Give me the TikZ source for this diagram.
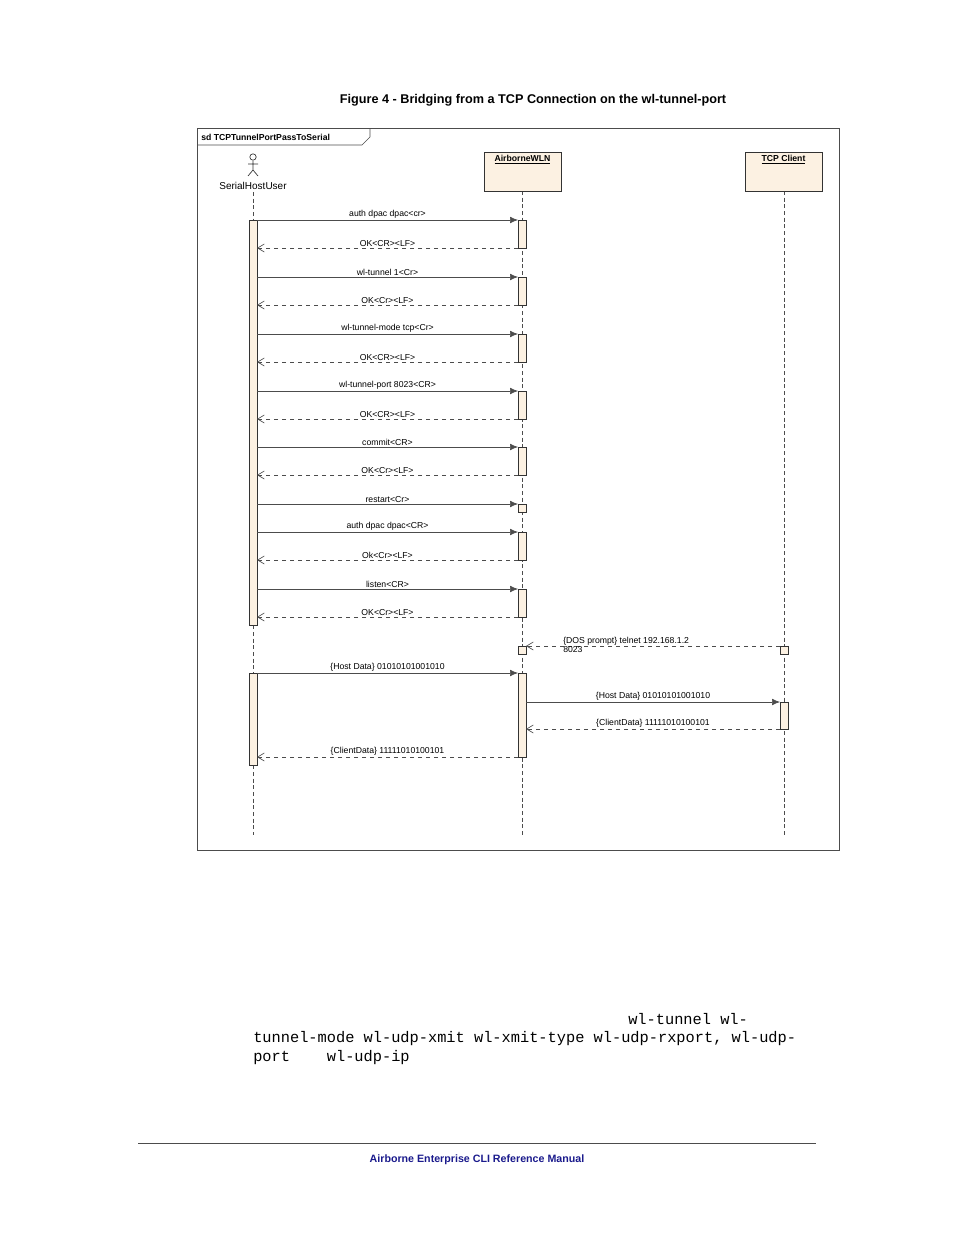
\documentclass[tikz,border=0pt]{standalone}
\usepackage{fontspec}
\setmainfont{Liberation Sans}
\newfontfamily\monof{Liberation Mono}
\usetikzlibrary{arrows.meta}
\definecolor{beige}{HTML}{FCF1E2}
\definecolor{navy}{HTML}{1A1A8C}
\begin{document}
\begin{tikzpicture}[x=0.75pt,y=-0.75pt,
  lbl/.style={font=\fontsize{6.5}{7}\selectfont,inner sep=1pt,anchor=south},
  syncm/.style={draw=black!70,line width=0.5pt,-{Latex[length=6pt,width=5pt]}},
  retm/.style={draw=black!70,dashed,line width=0.5pt,-{Straight Barb[length=5pt,width=6pt]}},
  act/.style={draw=black!80,fill=beige,line width=0.5pt},
  life/.style={draw=black!70,densely dashed,line width=0.5pt},
  objbox/.style={draw=black!80,fill=beige,line width=0.5pt}]
\useasboundingbox (0,0) rectangle (954,1235);
\node[font=\bfseries\fontsize{9.5}{11}\selectfont] (title) at (533,100) {Figure 4 - Bridging from a TCP Connection on the wl-tunnel-port};
% frame
\draw[black!70,line width=0.5pt] (197,128) rectangle (839,850);
\draw[black!70,line width=0.5pt] (197,145) -- (362,145) -- (370,137) -- (370,128);
\node[font=\bfseries\fontsize{6.5}{7}\selectfont,anchor=west,inner sep=0pt] (sd) at (201,137) {sd TCPTunnelPortPassToSerial};
% lifelines
\draw[life] (253,192) -- (253,835);
\draw[life] (522,191) -- (522,835);
\draw[life] (784,191) -- (784,835);
% actor
\draw[black!80,line width=0.5pt] (253,157) circle (3.2);
\draw[black!80,line width=0.5pt] (253,161) -- (253,170) (248,164) -- (258,164) (248,176) -- (253,170) -- (258,176);
\node[font=\fontsize{7.5}{8}\selectfont] (shu) at (253,186) {SerialHostUser};
% objects
\draw[objbox] (484,152) rectangle (561,191);
\node[font=\bfseries\fontsize{6.5}{7}\selectfont] (awl) at (522.5,160) {\underline{AirborneWLN}};
\draw[objbox] (745,152) rectangle (822,191);
\node[font=\bfseries\fontsize{6.5}{7}\selectfont] (tcp) at (783.5,160) {\underline{TCP Client}};
% activations
\draw[act] (249,220) rectangle (257,625);
\draw[act] (249,673) rectangle (257,765);
\foreach \a/\b in {220/248,277/305,334/362,391/419,447/475,532/560,589/617,673/757}
  \draw[act] (518,\a) rectangle (526,\b);
\draw[act] (518,504) rectangle (526,512);
\draw[act] (518,646) rectangle (526,654);
\draw[act] (780,646) rectangle (788,654);
\draw[act] (780,702) rectangle (788,729);
% messages
\foreach \y/\t in {220/auth dpac dpac<cr>,277/wl-tunnel 1<Cr>,334/wl-tunnel-mode tcp<Cr>,391/wl-tunnel-port 8023<CR>,447/commit<CR>,504/restart<Cr>,532/auth dpac dpac<CR>,589/listen<CR>}{
  \coordinate (s\y) at (257,\y); \coordinate (e\y) at (518,\y);
  \draw[syncm] (s\y) -- (e\y) node[lbl,midway] {\t};}
\foreach \y/\t in {248/OK<CR><LF>,305/OK<Cr><LF>,362/OK<CR><LF>,419/OK<CR><LF>,475/OK<Cr><LF>,560/Ok<Cr><LF>,617/OK<Cr><LF>}{
  \coordinate (rs\y) at (518,\y); \coordinate (re\y) at (257,\y);
  \draw[retm] (rs\y) -- (re\y) node[lbl,midway] {\t};}
\coordinate (d1) at (780,646); \coordinate (d2) at (526,646);
\draw[retm] (d1) -- (d2);
\node[font=\fontsize{6.5}{7}\selectfont,anchor=west,align=left,inner sep=0pt] (dos) at (563,645) {\{DOS prompt\} telnet 192.168.1.2\\8023};
\coordinate (h1) at (257,673); \coordinate (h2) at (518,673);
\draw[syncm] (h1) -- (h2) node[lbl,midway] {\{Host Data\} 01010101001010};
\coordinate (h3) at (526,702); \coordinate (h4) at (780,702);
\draw[syncm] (h3) -- (h4) node[lbl,midway] {\{Host Data\} 01010101001010};
\coordinate (c1) at (780,729); \coordinate (c2) at (526,729);
\draw[retm] (c1) -- (c2) node[lbl,midway] {\{ClientData\} 11111010100101};
\coordinate (c3) at (518,757); \coordinate (c4) at (257,757);
\draw[retm] (c3) -- (c4) node[lbl,midway] {\{ClientData\} 11111010100101};
% text below
\node[font=\monof\fontsize{11.5}{13}\selectfont,anchor=west,inner sep=0pt] (m1) at (628,1019) {wl-tunnel wl-};
\node[font=\monof\fontsize{11.5}{13}\selectfont,anchor=west,inner sep=0pt] (m2) at (253,1039) {tunnel-mode wl-udp-xmit wl-xmit-type wl-udp-rxport, wl-udp-};
\node[font=\monof\fontsize{11.5}{13}\selectfont,anchor=west,inner sep=0pt] (m3) at (253,1058) {port\ \ \ \ wl-udp-ip};
% footer
\draw[black!70,line width=0.6pt] (138,1143) -- (816,1143);
\node[font=\bfseries\fontsize{8}{9}\selectfont,text=navy] (foot) at (477,1160) {Airborne Enterprise CLI Reference Manual};
\end{tikzpicture}
\end{document}
